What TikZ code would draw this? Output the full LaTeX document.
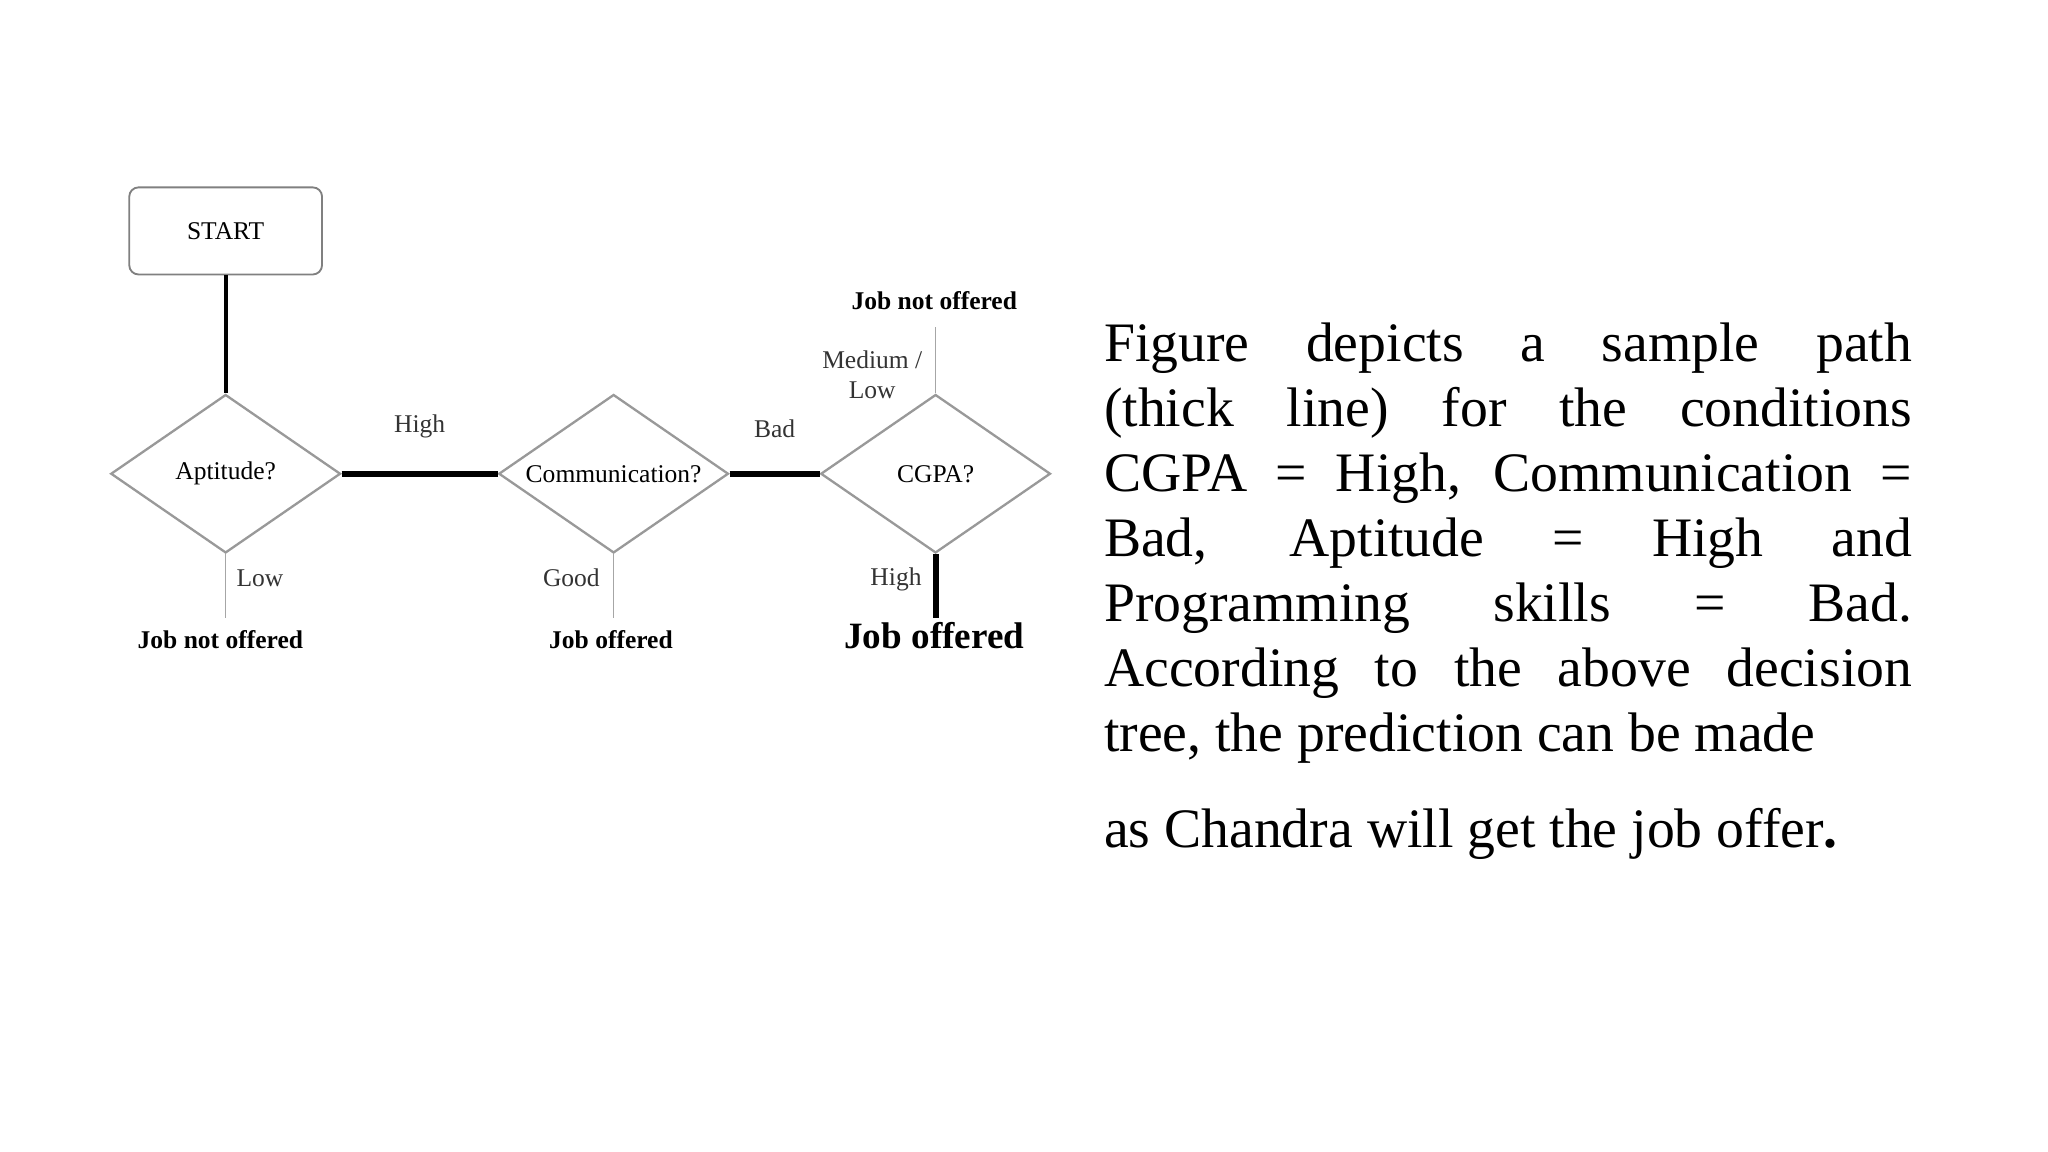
\documentclass[tikz,border=0pt]{standalone}
\usepackage{fontspec}
\setmainfont{Liberation Serif}
\usetikzlibrary{shapes.geometric}
\begin{document}
\begin{tikzpicture}[x=0.01cm,y=-0.01cm,
  dec/.style={diamond,draw=gray!80,line width=0.5pt,aspect=1.46,minimum width=1.74cm,minimum height=1.2cm,inner sep=0pt,font=\fontsize{5.5}{6.5}\selectfont},
  lbl/.style={font=\fontsize{5.5}{6.5}\selectfont,inner sep=0pt,text=black!80},
  res/.style={font=\fontsize{5.5}{6.5}\selectfont\bfseries,inner sep=0pt},
  thin/.style={draw=gray!70,line width=0.3pt},
  thick/.style={draw=black,line width=1.3pt},
  body/.style={font=\fontsize{12}{14}\selectfont}]
\useasboundingbox (0,0) rectangle (1552,873);
\node[draw=gray,rounded corners=2pt,minimum width=1.46cm,minimum height=0.66cm,font=\fontsize{5.5}{6.5}\selectfont] (start) at (171,175) {START};
\node[dec] (apt) at (171,359) {Aptitude?};
\node[dec] (com) at (465,359) {Communication?};
\node[dec] (cg) at (709,359) {CGPA?};
\coordinate (a1) at (171,468);
\coordinate (c1) at (465,468);
\coordinate (g1) at (709,468);
\coordinate (g2) at (709,248);
\draw[draw=black,line width=0.9pt] (start) -- (apt.north);
\draw[thick] (apt.east) -- node[lbl,above=7pt]{High} (com.west);
\draw[thick] (com.east) -- node[lbl,above=7pt]{Bad} (cg.west);
\draw[thin] (apt.south) -- (a1);
\draw[thin] (com.south) -- (c1);
\draw[thick] (cg.south) -- (g1);
\draw[thin] (cg.north) -- (g2);
\node[lbl] at (197,438) {Low};
\node[lbl] at (433,438) {Good};
\node[lbl] at (679,439) {High};
\node[lbl,align=center] at (661,284) {Medium /\\Low};
\node[res] (r1) at (167,485) {Job not offered};
\node[res] (r2) at (463,485) {Job offered};
\node[res,font=\fontsize{8}{10}\selectfont\bfseries] (r3) at (708,482) {Job offered};
\node[res] (r4) at (708,228) {Job not offered};
\node[anchor=north west,inner sep=0pt,text width=6.12cm,align=justify,body] (txt) at (836,244)
{\parfillskip=0pt\hyphenpenalty=10000 Figure depicts a sample path\linebreak (thick line) for the conditions\linebreak CGPA = High, Communication =\linebreak Bad, Aptitude = High and\linebreak Programming skills = Bad.\linebreak According to the above decision\linebreak tree, the prediction can be made};
\node[anchor=base west,inner sep=0pt,body] (last) at (836,642) {as Chandra will get the job offer\textbf{.}};
\end{tikzpicture}
\end{document}
